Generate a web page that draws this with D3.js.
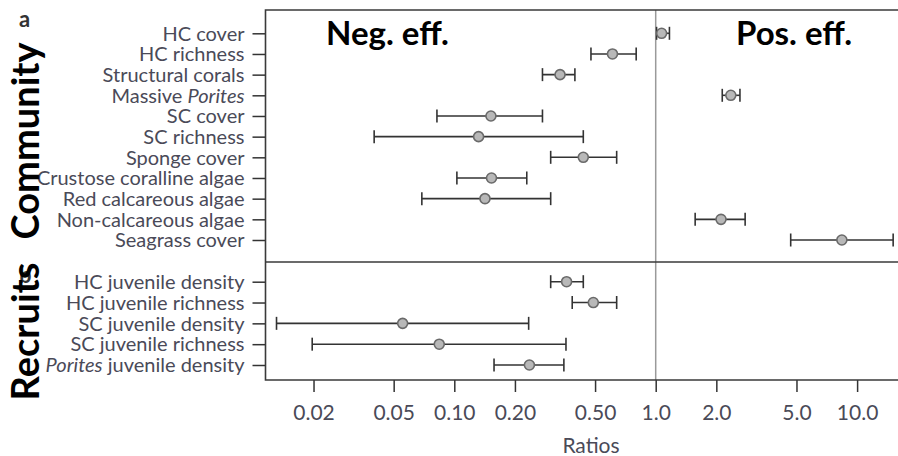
<html>
<head>
    <style>
        body { margin: 0; background: #fff; }
        .tick text { font-family: Lato, sans-serif; fill: #4a4a58; }
        .bold { font-family: Lato, sans-serif; font-weight: bold; fill: #000; }
    </style>
</head>
<body>
    <svg id="container" width="898" height="456"></svg>
</body>
<script src="https://d3js.org/d3.v7.min.js"></script>
<script>
    // panel a: community
    let communityLabels = ["HC cover", "HC richness", "Structural corals", "Massive Porites", "SC cover",
        "SC richness", "Sponge cover", "Crustose coralline algae", "Red calcareous algae",
        "Non-calcareous algae", "Seagrass cover"]
    let communityRatio = [1.07, 0.61, 0.335, 2.36, 0.152, 0.132, 0.437, 0.153, 0.142, 2.11, 8.4]
    let communityLow   = [1.01, 0.477, 0.274, 2.14, 0.082, 0.040, 0.301, 0.103, 0.069, 1.57, 4.68]
    let communityHigh  = [1.17, 0.80, 0.397, 2.62, 0.274, 0.437, 0.640, 0.229, 0.301, 2.78, 15.1]

    // panel b: recruits
    let recruitLabels = ["HC juvenile density", "HC juvenile richness", "SC juvenile density",
        "SC juvenile richness", "Porites juvenile density"]
    let recruitRatio = [0.361, 0.49, 0.0554, 0.0842, 0.236]
    let recruitLow   = [0.301, 0.385, 0.0131, 0.0197, 0.1575]
    let recruitHigh  = [0.437, 0.64, 0.234, 0.3585, 0.350]

    let xTicks = [0.02, 0.05, 0.1, 0.2, 0.5, 1, 2, 5, 10]
    let xTickLabels = ["0.02", "0.05", "0.10", "0.20", "0.50", "1.0", "2.0", "5.0", "10.0"]
    let italicWord = "Porites"

    let svg = d3.select("#container")
    let marginLeft = 265.5, marginTop = 10
    let bodyWidth = 898 - marginLeft
    let bodyHeight = 370
    let sepY = 252

    let body = svg.append("g").attr("transform", "translate(" + marginLeft + "," + marginTop + ")")

    let xScale = d3.scaleLog()
        .domain([0.01155, 15.96])
        .range([0, bodyWidth])

    let yTop = d3.scalePoint().domain(communityLabels).range([23.3, 230])
    let yBot = d3.scalePoint().domain(recruitLabels).range([271.7, 355])

    // y axes
    function styleYAxis(g) {
        g.select(".domain").remove()
        g.selectAll(".tick line").attr("stroke", "#333").attr("stroke-width", 1.5)
        g.selectAll(".tick text")
            .style("font-size", "20px")
            .attr("dy", "0.34em")
            .each(function(d) {
                let t = d3.select(this)
                let idx = d.indexOf(italicWord)
                if (idx < 0) return
                t.text(null)
                let before = d.slice(0, idx), after = d.slice(idx + italicWord.length)
                if (before) t.append("tspan").text(before)
                t.append("tspan").style("font-style", "italic").text(italicWord)
                if (after) t.append("tspan").text(after)
            })
    }
    body.append("g").call(d3.axisLeft(yTop).tickSize(13).tickPadding(8)).call(styleYAxis)
    body.append("g").call(d3.axisLeft(yBot).tickSize(13).tickPadding(8)).call(styleYAxis)

    // x axis
    let xAxis = body.append("g")
        .attr("transform", "translate(0," + bodyHeight + ")")
        .call(d3.axisBottom(xScale).tickValues(xTicks).tickFormat((d, i) => xTickLabels[i]).tickSize(12).tickPadding(13))
    xAxis.select(".domain").remove()
    xAxis.selectAll(".tick line").attr("stroke", "#333").attr("stroke-width", 1.5)
    xAxis.selectAll(".tick text").style("font-size", "21px")

    // reference line at 1
    body.append("line")
        .attr("x1", xScale(1)).attr("x2", xScale(1))
        .attr("y1", 0).attr("y2", bodyHeight)
        .attr("stroke", "#9a9a9a").attr("stroke-width", 1.5)

    // frame + separator
    let frameColor = "#3a3a3a"
    body.append("path")
        .attr("d", "M" + (bodyWidth + 10) + ",0H0V" + bodyHeight + "H" + (bodyWidth + 10))
        .attr("fill", "none").attr("stroke", frameColor).attr("stroke-width", 1.6)
    body.append("line")
        .attr("x1", 0).attr("x2", bodyWidth + 10)
        .attr("y1", sepY).attr("y2", sepY)
        .attr("stroke", frameColor).attr("stroke-width", 1.6)

    // error bars and points
    function drawPanel(labels, ratio, low, high, yScale) {
        let data = labels.map((l, i) => ({ label: l, r: ratio[i], lo: low[i], hi: high[i] }))
        let g = body.append("g")
        let bars = g.selectAll(".bar").data(data).enter().append("g")
        bars.append("line")
            .attr("x1", d => xScale(d.lo)).attr("x2", d => xScale(d.hi))
            .attr("y1", d => yScale(d.label)).attr("y2", d => yScale(d.label))
        bars.append("line")
            .attr("x1", d => xScale(d.lo)).attr("x2", d => xScale(d.lo))
            .attr("y1", d => yScale(d.label) - 6.5).attr("y2", d => yScale(d.label) + 6.5)
        bars.append("line")
            .attr("x1", d => xScale(d.hi)).attr("x2", d => xScale(d.hi))
            .attr("y1", d => yScale(d.label) - 6.5).attr("y2", d => yScale(d.label) + 6.5)
        bars.selectAll("line").attr("stroke", "#333").attr("stroke-width", 1.6)
        g.selectAll("circle").data(data).enter().append("circle")
            .attr("cx", d => xScale(d.r))
            .attr("cy", d => yScale(d.label))
            .attr("r", 5)
            .attr("fill", "#b8b8b8")
            .attr("stroke", "#6a6a6a")
            .attr("stroke-width", 1.6)
    }
    drawPanel(communityLabels, communityRatio, communityLow, communityHigh, yTop)
    drawPanel(recruitLabels, recruitRatio, recruitLow, recruitHigh, yBot)

    // annotations
    svg.append("text").attr("class", "bold").attr("x", 19).attr("y", 27)
        .style("font-size", "22px").style("fill", "#333").text("a")
    svg.append("text").attr("class", "bold").attr("x", 19).attr("y", 283)
        .style("font-size", "22px").style("fill", "#333").text("b")

    svg.append("text").attr("class", "bold")
        .attr("x", 326).attr("y", 45).style("font-size", "33px").text("Neg. eff.")
    svg.append("text").attr("class", "bold")
        .attr("x", 736).attr("y", 45).style("font-size", "33px").text("Pos. eff.")

    svg.append("text").attr("class", "bold")
        .attr("transform", "translate(39,141) rotate(-90)")
        .attr("text-anchor", "middle")
        .style("font-size", "38px").text("Community")
    svg.append("text").attr("class", "bold")
        .attr("transform", "translate(39,331.5) rotate(-90)")
        .attr("text-anchor", "middle")
        .style("font-size", "38px").text("Recruits")

    svg.append("text")
        .attr("x", 591).attr("y", 453)
        .attr("text-anchor", "middle")
        .style("font-family", "Lato, sans-serif").style("font-size", "21px").style("fill", "#4a4a58")
        .text("Ratios")
</script>
</html>
